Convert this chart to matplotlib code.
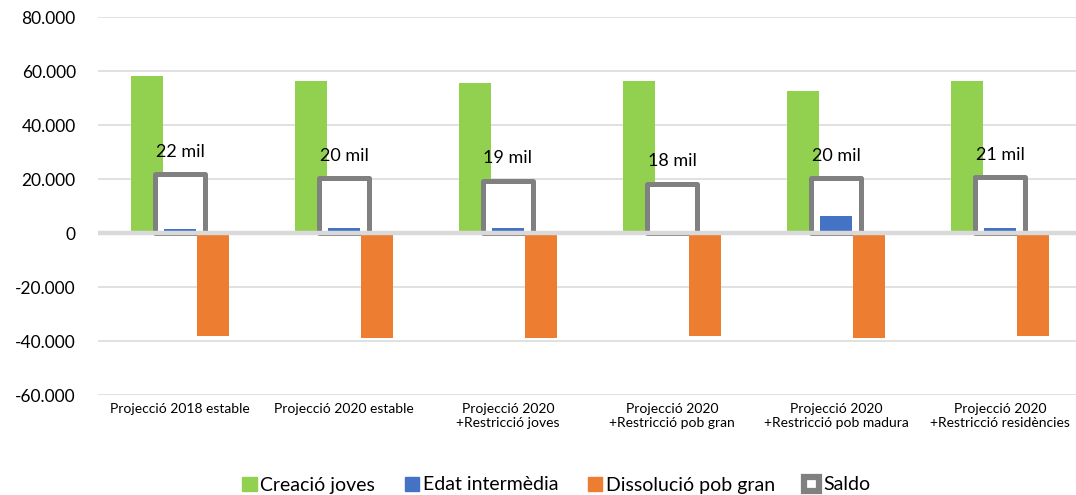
import matplotlib

matplotlib.use("Agg")
import matplotlib.pyplot as plt
import numpy as np
from matplotlib.patches import Patch
from matplotlib.ticker import FuncFormatter

categories = [
    "Projecció 2018 estable",
    "Projecció 2020 estable",
    "Projecció 2020\n+Restricció joves",
    "Projecció 2020\n+Restricció pob gran",
    "Projecció 2020\n+Restricció pob madura",
    "Projecció 2020\n+Restricció residències",
]
creacio_joves = [58100, 56300, 55700, 56300, 52600, 56300]
edat_intermedia = [1500, 1800, 1800, 300, 6200, 2000]
dissolucio_pob_gran = [-38300, -38800, -38800, -38300, -38800, -38000]
saldo = [21800, 20200, 19400, 18300, 20400, 20800]

GREEN = "#92D050"
BLUE = "#4472C4"
ORANGE = "#ED7D31"
GRAY = "#808080"
GRID = "#D9D9D9"

plt.rcParams["font.family"] = ["Lato", "DejaVu Sans"]


def thousands(v, _pos):
    if v == 0:
        return "0"
    return f"{v:,.0f}".replace(",", ".")


fig = plt.figure(figsize=(10.76, 4.95), dpi=100)
ax = fig.add_axes([98 / 1076, 1 - 395 / 495, 984 / 1076, 378 / 495])

x = np.arange(len(categories))
w = 0.195

ax.bar(x - 0.2, creacio_joves, w, color=GREEN, zorder=2)
ax.bar(x, saldo, 0.30, facecolor="white", edgecolor=GRAY, linewidth=3.6,
       joinstyle="round", zorder=3)
ax.bar(x, edat_intermedia, w, color=BLUE, zorder=4)
ax.bar(x + 0.2, dissolucio_pob_gran, w, color=ORANGE, zorder=4)
ax.axhline(0, color=GRID, linewidth=3.2, zorder=5)

for xi, v in zip(x, saldo):
    ax.annotate(f"{round(v / 1000)} mil", (xi, v), xytext=(0, 16),
                textcoords="offset points", ha="center", va="center",
                fontsize=13, zorder=6)

ax.set_xlim(-0.5, len(categories) - 0.5)
ax.set_ylim(-60000, 80000)
ax.set_yticks(np.arange(-60000, 80001, 20000))
ax.yaxis.set_major_formatter(FuncFormatter(thousands))
ax.set_xticks(x, categories)
ax.tick_params(axis="y", length=0, pad=16, labelsize=12.5)
ax.tick_params(axis="x", length=0, pad=6, labelsize=10)
ax.grid(True, axis="y", color=GRID, linewidth=1.1, zorder=0)
for s in ax.spines.values():
    s.set_visible(False)

handles = [
    Patch(facecolor=GREEN, edgecolor=GREEN),
    Patch(facecolor=BLUE, edgecolor=BLUE),
    Patch(facecolor=ORANGE, edgecolor=ORANGE),
    Patch(facecolor="white", edgecolor=GRAY, linewidth=4.5),
]
labels = ["Creació joves", "Edat intermèdia", "Dissolució pob gran", "Saldo"]
fig.legend(handles, labels, loc="center", bbox_to_anchor=(556 / 1076, 1 - 485 / 495),
           ncol=4, frameon=False, fontsize=14, handlelength=0.75, handleheight=0.75,
           handletextpad=0.2, columnspacing=1.5, borderpad=0)

fig.savefig("out.png", dpi=100)
